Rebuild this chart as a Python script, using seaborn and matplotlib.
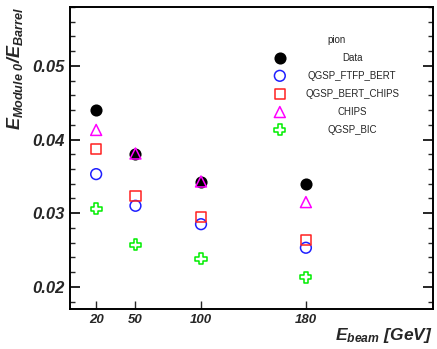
import matplotlib
matplotlib.use("Agg")
import matplotlib.pyplot as plt
from matplotlib.ticker import MultipleLocator, FixedLocator
import seaborn as sns
import pandas as pd

# Beam energies (GeV)
energies = [20, 50, 100, 180]

# Fraction of energy in Module 0 relative to the barrel, pion beam
data_vals = [0.0440, 0.0381, 0.0342, 0.0340]
ftfp_bert_vals = [0.0353, 0.0310, 0.0285, 0.0253]
bert_chips_vals = [0.0387, 0.0323, 0.0295, 0.0264]
chips_vals = [0.0413, 0.0381, 0.0343, 0.0315]
bic_vals = [0.0306, 0.0257, 0.0238, 0.0213]

series_names = ["Data", "QGSP_FTFP_BERT", "QGSP_BERT_CHIPS", "CHIPS", "QGSP_BIC"]
series_vals = [data_vals, ftfp_bert_vals, bert_chips_vals, chips_vals, bic_vals]
series_colors = ["black", "#1f1fff", "#ff2020", "#ff00ff", "#00ee00"]
series_markers = ["o", "o", "s", "^", "P"]
series_filled = [True, False, False, False, False]
series_sizes = [58, 60, 55, 62, 65]

sns.set_style("ticks")
plt.rcParams["font.family"] = ["Liberation Sans", "DejaVu Sans"]
plt.rcParams["mathtext.fontset"] = "custom"
plt.rcParams["mathtext.rm"] = "Liberation Sans:italic:bold"
plt.rcParams["mathtext.it"] = "Liberation Sans:italic:bold"
plt.rcParams["mathtext.bf"] = "Liberation Sans:italic:bold"

fig = plt.figure(figsize=(4.37, 3.49), dpi=100)
ax = fig.add_axes([0.160, 0.115, 0.831, 0.865])

for name, vals, col, mk, filled, sz in zip(series_names, series_vals, series_colors,
                                           series_markers, series_filled, series_sizes):
    df = pd.DataFrame({"E": energies, "ratio": vals})
    sns.scatterplot(data=df, x="E", y="ratio", ax=ax, marker=mk, s=sz,
                    facecolor=col if filled else "none", edgecolor=col,
                    linewidth=1.1, zorder=3, legend=False)

ax.set_xlim(0, 277)
ax.set_ylim(0.017, 0.058)

# Ticks: inward, major/minor on y (both sides), energy points on x
ax.xaxis.set_major_locator(FixedLocator(energies))
ax.set_xticklabels([str(e) for e in energies])
ax.yaxis.set_major_locator(MultipleLocator(0.01))
ax.yaxis.set_minor_locator(MultipleLocator(0.002))
ax.yaxis.set_major_formatter(matplotlib.ticker.FormatStrFormatter("%.2f"))
ax.tick_params(axis="y", which="major", direction="in", length=7.5, width=1.4,
               left=True, right=True, labelsize=12, pad=4)
ax.tick_params(axis="y", which="minor", direction="in", length=3.8, width=1.0,
               left=True, right=True)
ax.tick_params(axis="x", which="major", direction="in", length=6, width=1.0,
               bottom=True, top=False, labelsize=9.5, pad=4)
for lab in ax.get_xticklabels() + ax.get_yticklabels():
    lab.set_fontweight("bold")
    lab.set_fontstyle("italic")

for sp in ax.spines.values():
    sp.set_linewidth(1.4)
    sp.set_color("black")

ax.set_xlabel(r"$E_{beam}\ [GeV]$", fontsize=12.5, loc="right", labelpad=0)
ax.set_ylabel(r"$E_{Module\ 0}/E_{Barrel}$", fontsize=13, loc="top", labelpad=5)

# Key listing the pion samples
key_x_marker = 0.578
key_x_text = 0.777
key_rows = [0.831, 0.772, 0.712, 0.652, 0.593]
ax.text(0.735, 0.891, "pion", transform=ax.transAxes, ha="center", va="center",
        fontsize=7)
for name, col, mk, filled, sz, yk in zip(series_names, series_colors, series_markers,
                                         series_filled, series_sizes, key_rows):
    ax.scatter([key_x_marker], [yk], transform=ax.transAxes, marker=mk, s=sz,
               facecolor=col if filled else "none", edgecolor=col, linewidth=1.1,
               clip_on=False, zorder=4)
    ax.text(key_x_text, yk, name, transform=ax.transAxes, ha="center", va="center",
            fontsize=7)

fig.savefig("out.png", dpi=100, facecolor="white")
